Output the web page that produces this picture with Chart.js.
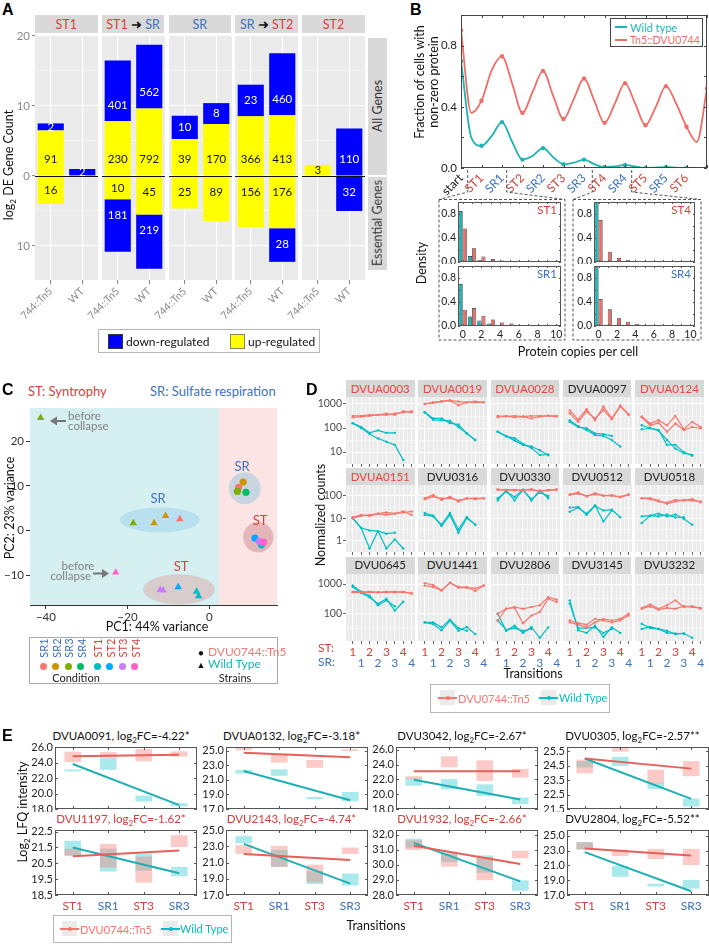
<!DOCTYPE html>
<html>
<head>
<meta charset="utf-8">
<script src="https://cdn.jsdelivr.net/npm/chart.js@4.4.1/dist/chart.umd.min.js"></script>
<style>
  body { margin: 0; width: 709px; height: 944px; position: relative; overflow: hidden; background: #fff;
         font-family: Lato, "Open Sans", sans-serif; }
  canvas { position: absolute; }
  .t { position: absolute; white-space: nowrap; line-height: 1; }
</style>
</head>
<body>
<script>
// ---------- data: panel A (DE gene counts) ----------
const aFacets = ['ST1', 'ST1→SR', 'SR', 'SR→ST2', 'ST2'];
const aStrains = ['744::Tn5', 'WT'];
// per facet: [744::Tn5, WT]
const aUpAll   = [[91, 0], [230, 792], [39, 170], [366, 413], [3, 0]];
const aDownAll = [[2, 2], [401, 562], [10, 8], [23, 460], [0, 110]];
const aUpEss   = [[16, 0], [10, 45], [25, 89], [156, 176], [0, 0]];
const aDownEss = [[0, 0], [181, 219], [0, 0], [0, 28], [0, 32]];
const aGrid = [-10, -5, 0, 5, 10, 15, 20];

// ---------- data: panel B (fraction of cells) ----------
const bStages = ['start', 'ST1', 'SR1', 'ST2', 'SR2', 'ST3', 'SR3', 'ST4', 'SR4', 'ST5', 'SR5', 'ST6', ''];
const bStageX = [0, 1, 2, 3, 4, 5, 6, 7, 8, 9, 10, 11, 12];
const bTn5Pts = [0.90, 0.44, 0.73, 0.36, 0.635, 0.32, 0.585, 0.295, 0.555, 0.28, 0.535, 0.27, 0.52];
const bWtPts  = [0.70, 0.145, 0.30, 0.055, 0.13, 0.025, 0.055, 0.005, 0.02, 0.0, 0.005, 0.0, 0.0];
const bCurveX = [0, 0.5, 1, 1.5, 2, 2.5, 3, 3.5, 4, 4.5, 5, 5.5, 6, 6.5, 7, 7.5, 8, 8.5, 9, 9.5, 10, 10.5, 11, 11.5, 12];
const bTn5Curve = [0.90, 0.36, 0.44, 0.64, 0.73, 0.55, 0.36, 0.50, 0.635, 0.47, 0.32, 0.45, 0.585, 0.44, 0.295, 0.42, 0.555, 0.42, 0.28, 0.40, 0.535, 0.42, 0.27, 0.17, 0.52];
const bWtCurve  = [0.70, 0.20, 0.145, 0.21, 0.30, 0.17, 0.055, 0.08, 0.13, 0.07, 0.025, 0.035, 0.055, 0.025, 0.005, 0.01, 0.02, 0.01, 0.0, 0.003, 0.005, 0.002, 0.0, 0.0, 0.0];
const bYTicks = [0, 0.2, 0.4, 0.6, 0.8, 1.0];

// histograms (density of protein copies per cell)
const hCopies = ['0', '1', '2', '3', '4', '5', '6', '7', '8', '9', '10'];
const hST1Wt  = [0.85, 0.10, 0.03, 0.01, 0, 0, 0, 0, 0, 0, 0];
const hST1Tn5 = [0.56, 0.23, 0.09, 0.05, 0.025, 0.015, 0.01, 0.005, 0.003, 0.002, 0.001];
const hSR1Wt  = [0.70, 0.16, 0.09, 0.04, 0.01, 0, 0, 0, 0, 0, 0];
const hSR1Tn5 = [0.27, 0.30, 0.17, 0.11, 0.06, 0.04, 0.02, 0.015, 0.01, 0.005, 0.003];
const hST4Wt  = [0.995, 0.005, 0, 0, 0, 0, 0, 0, 0, 0, 0];
const hST4Tn5 = [0.70, 0.17, 0.07, 0.03, 0.015, 0.007, 0.004, 0.002, 0.001, 0, 0];
const hSR4Wt  = [0.98, 0.02, 0, 0, 0, 0, 0, 0, 0, 0, 0];
const hSR4Tn5 = [0.45, 0.28, 0.13, 0.07, 0.035, 0.017, 0.008, 0.004, 0.002, 0.001, 0];

// ---------- data: panel C (PCA) ----------
const cConds = ['SR1', 'SR2', 'SR3', 'SR4', 'ST1', 'ST2', 'ST3', 'ST4'];
const cCondColors = ['#F8766D', '#CD9600', '#7CAE00', '#00BE67', '#00BFC4', '#00A9FF', '#C77CFF', '#FF61CC'];
const cTn5Cond = ['SR1', 'SR2', 'SR3', 'SR4', 'ST1', 'ST2', 'ST3', 'ST4'];
const cTn5X = [7.2, 8.3, 6.9, 9.0, 12.8, 11.2, 12.2, 13.3];
const cTn5Y = [9.7, 10.9, 8.8, 8.6, -3.2, -1.7, -2.4, -2.6];
const cWtCond = ['SR3', 'SR3', 'SR2', 'SR2', 'SR1', 'ST3', 'ST3', 'ST2', 'ST1', 'ST1', 'ST4'];
const cWtX = [-41.3, -18.6, -13.5, -10.7, -7.2, -12.0, -11.3, -7.6, -3.1, -2.6, -22.9];
const cWtY = [25.3, 1.7, 1.7, 3.3, 2.6, -13.3, -13.4, -12.7, -13.7, -14.7, -9.4];
const cXTicks = [-40, -20, 0];
const cYTicks = [-10, 0, 10, 20];

// ---------- data: panel D (normalized counts) ----------
const dGenes = ['DVUA0003', 'DVUA0019', 'DVUA0028', 'DVUA0097', 'DVUA0124',
                'DVUA0151', 'DVU0316', 'DVU0330', 'DVU0512', 'DVU0518',
                'DVU0645', 'DVU1441', 'DVU2806', 'DVU3145', 'DVU3232'];
const dGeneRed = ['DVUA0003', 'DVUA0019', 'DVUA0028', 'DVUA0124', 'DVUA0151'];
const dStLabels = ['1', '2', '3', '4'];
const dSrLabels = ['1', '2', '3', '4'];
const dTn5A = [
  [320, 320, 350, 350, 400, 350, 500, 450], [1000, 1120, 1260, 1400, 1260, 1170, 1170, 1170],
  [280, 320, 280, 300, 250, 300, 330, 300], [540, 230, 600, 210, 780, 250, 870, 380],
  [300, 155, 210, 130, 320, 90, 180, 110],
  [10, 12.6, 14, 16, 14, 16, 18, 20], [80, 110, 66, 93, 56, 80, 71, 80],
  [186, 186, 178, 186, 186, 166, 186, 200], [117, 145, 93, 132, 100, 110, 87, 110],
  [79, 79, 62, 44, 56, 66, 62, 56],
  [550, 550, 525, 525, 550, 525, 550, 470], [1070, 930, 620, 1100, 790, 790, 575, 890],
  [58, 145, 166, 145, 166, 190, 360, 295], [58, 47, 42, 66, 58, 50, 58, 85],
  [155, 204, 145, 190, 280, 166, 178, 145]];
const dTn5B = [
  [280, 300, 320, 350, 350, 400, 450, 500], [1000, 1170, 1300, 1400, 890, 1170, 1260, 1170],
  [320, 300, 320, 300, 320, 320, 320, 320], [410, 180, 480, 250, 560, 230, 780, 350],
  [280, 130, 165, 70, 155, 83, 110, 98],
  [11, 14, 12.6, 16, 18, 16, 20, 14], [71, 93, 76, 80, 63, 76, 80, 76],
  [200, 186, 186, 178, 200, 158, 178, 186], [110, 126, 100, 117, 105, 100, 93, 117],
  [79, 71, 56, 50, 66, 62, 71, 52],
  [525, 525, 550, 525, 525, 550, 525, 500], [890, 790, 600, 1100, 760, 760, 710, 890],
  [98, 145, 158, 47, 85, 112, 316, 245], [50, 42, 34, 50, 66, 58, 66, 98],
  [145, 174, 135, 155, 145, 178, 166, 155]];
const dWtA = [
  [160, 110, 63, 80, 63, 63], [450, 250, 250, 160, 140, 60, 32],
  [71, 47, 30, 20, 17, 12, 7.4], [180, 110, 98, 60, 56, 47],
  [130, 100, 83, 20, 20, 10, 7],
  [10, 3.6, 0.43, 2.6, 0.43, 1.1, 0.43], [17, 13, 4.4, 14, 2.2, 10, 5.1],
  [63, 178, 63, 186, 63, 178, 79], [30, 32, 14, 36, 22, 24, 11],
  [12, 13, 16, 12, 14.5, 9.5, 5.1],
  [890, 550, 400, 190, 280, 178], [50, 44, 27, 58, 26, 35, 20],
  [98, 26, 39, 22, 35, 15, 34], [280, 27, 22, 39, 16, 34, 22],
  [45, 32, 30, 26, 20, 21, 15]];
const dWtB = [
  [160, 100, 56, 37, 27, 20, 4.7], [450, 220, 210, 200, 110, 60, 32],
  [70, 45, 38, 22, 15, 7.5, 8], [210, 120, 83, 51, 47, 32, 17],
  [89, 98, 78, 32, 14, 9, 7.6],
  [10, 3.6, 2.8, 2.6, 2, 2.2], [14, 12, 5.1, 17, 3.1, 11, 5.1],
  [79, 158, 89, 190, 71, 141, 100], [19.5, 30, 16, 37, 7.2, 22],
  [6, 13, 12, 14.5, 10.7, 11],
  [800, 500, 355, 214, 316, 126, 251], [50, 50, 34, 62, 32, 26],
  [58, 28, 32, 26, 30], [214, 32, 32, 34, 22, 30],
  [30, 35, 30, 22, 21, 21]];
const dYMin = [3.2, 0.32, 11.7];
const dYMax = [1950, 310, 2190];
const dYGrid = [[10, 31.6, 100, 316, 1000], [1, 3.16, 10, 31.6, 100], [31.6, 100, 316, 1000]];
const dYMajor = [[10, 100, 1000], [1, 10, 100], [100, 1000]];
const dXGrid = [-0.5, 0, 0.5, 1, 1.5, 2, 2.5, 3, 3.5, 4, 4.5, 5, 5.5, 6, 6.5, 7];

// ---------- data: panel E (LFQ intensity) ----------
const eGenes = ['DVUA0091', 'DVUA0132', 'DVU3042', 'DVU0305', 'DVU1197', 'DVU2143', 'DVU1932', 'DVU2804'];
const eFC = ['-4.22*', '-3.18*', '-2.67*', '-2.57**', '-1.62*', '-4.74*', '-2.66*', '-5.52**'];
const eTitleRed = [false, false, false, false, true, true, true, false];
const eStages = ['ST1', 'SR1', 'ST3', 'SR3'];
const eYMin = [18, 17, 18, 21.5, 18.5, 17, 28, 17];
const eYMax = [26, 25.5, 26.4, 25.8, 22.6, 25, 32.3, 25.8];
const eTicks = [[18, 20, 22, 24, 26], [17, 19, 21, 23, 25], [18, 20, 22, 24, 26], [21.5, 22.5, 23.5, 24.5, 25.5],
                [18.5, 19.5, 20.5, 21.5, 22.5], [17, 19, 21, 23, 25], [28, 29, 30, 31, 32], [17, 19, 21, 23, 25]];
const eTn5Box = [
  [[24.1, 25.35], [24.6, 25.3], [24.2, 25.7], [24.8, 25.4]],
  [[25.1, 25.45], [23.4, 24.4], [22.7, 23.7], [25.0, 25.15]],
  [[22.1, 22.4], [23.7, 25.1], [21.85, 24.55], [22.3, 23.4]],
  [[24.0, 24.9], [25.5, 25.7], [23.3, 24.2], [23.8, 24.8]],
  [[21.0, 21.4], [20.25, 21.7], [19.3, 20.9], [21.55, 22.25]],
  [[22.1, 23.1], [20.5, 23.0], [18.6, 20.7], [22.1, 22.8]],
  [[31.0, 31.6], [29.9, 30.7], [29.0, 30.5], [30.45, 30.9]],
  [[23.2, 24.1], [22.3, 23.1], [21.9, 23.2], [21.1, 23.2]]];
const eWtBox = [
  [[22.9, 23.05], [23.1, 24.5], [19.0, 19.7], [18.4, 18.7]],
  [[21.9, 22.3], [21.6, 22.4], [18.4, 18.6], [18.1, 19.3]],
  [[21.2, 22.1], [20.7, 22.0], [19.8, 21.3], [18.7, 19.5]],
  [[24.4, 24.8], [24.5, 25.1], [22.9, 23.3], [21.7, 22.2]],
  [[21.0, 21.9], [20.0, 21.4], [20.05, 21.1], [19.7, 20.25]],
  [[23.4, 24.2], [20.5, 22.5], [18.4, 19.9], [18.2, 19.6]],
  [[31.15, 31.7], [30.2, 30.8], [29.5, 30.6], [28.3, 28.95]],
  [[23.2, 24.1], [19.5, 20.9], [18.2, 18.5], [17.9, 19.0]]];
// fitted line ends at ST1 and SR3
const eTn5Fit = [[24.8, 25.0], [24.7, 24.1], [23.1, 23.1], [25.0, 24.3], [20.94, 21.3], [22.06, 21.3], [31.26, 30.05], [23.3, 22.35]];
const eWtFit  = [[23.8, 18.5], [22.2, 18.2], [21.95, 19.3], [25.0, 22.2], [21.5, 19.87], [23.3, 18.4], [31.45, 28.9], [22.8, 17.5]];

// ---------- colours ----------
const RED = '#F8766D', TEAL = '#00BFC4';
const STC = '#d4423a', SRC = '#3d72bd';
const stageColor = s => s.startsWith('ST') ? STC : s.startsWith('SR') ? SRC : '#111';

Chart.defaults.font.family = 'Lato, "Open Sans", sans-serif';
Chart.defaults.color = '#222';

// ---------- small plugins ----------
Chart.register({
  id: 'bg',
  beforeDraw(ch, args, o) {
    if (!o.color) return;
    const a = ch.chartArea, c = ch.ctx;
    c.save(); c.fillStyle = o.color;
    c.fillRect(a.left, a.top, a.right - a.left, a.bottom - a.top);
    c.restore();
  }
});
Chart.register({
  id: 'frame',
  afterDatasetsDraw(ch, args, o) {
    if (!o.color) return;
    const a = ch.chartArea, c = ch.ctx, L = o.len || 3;
    c.save(); c.strokeStyle = o.color; c.lineWidth = 1;
    c.beginPath();
    if (o.ticks) {
      const xs = ch.scales.x, ys = ch.scales.y;
      xs.ticks.forEach(t => {
        const p = Math.round(xs.getPixelForValue(t.value)) + 0.5;
        c.moveTo(p, a.bottom); c.lineTo(p, a.bottom - L);
        c.moveTo(p, a.top); c.lineTo(p, a.top + L);
      });
      ys.ticks.forEach(t => {
        const p = Math.round(ys.getPixelForValue(t.value)) + 0.5;
        c.moveTo(a.left, p); c.lineTo(a.left + L, p);
        c.moveTo(a.right, p); c.lineTo(a.right - L, p);
      });
    }
    c.stroke();
    c.strokeRect(a.left + 0.5, a.top + 0.5, a.right - a.left - 1, a.bottom - a.top - 1);
    c.restore();
  }
});
Chart.register({
  id: 'hline',
  afterDatasetsDraw(ch, args, o) {
    if (o.value === undefined) return;
    const a = ch.chartArea, c = ch.ctx, y = Math.round(ch.scales.y.getPixelForValue(o.value)) + 0.5;
    c.save(); c.strokeStyle = o.color; c.lineWidth = 1.2;
    c.beginPath(); c.moveTo(a.left, y); c.lineTo(a.right, y); c.stroke();
    c.restore();
  }
});
Chart.register({
  id: 'barLabels',
  afterDatasetsDraw(ch, args, o) {
    if (!o.on) return;
    const c = ch.ctx;
    c.save(); c.font = '11.5px Lato, "Open Sans", sans-serif';
    c.textAlign = 'center'; c.textBaseline = 'middle';
    ch.data.datasets.forEach((ds, i) => {
      ch.getDatasetMeta(i).data.forEach((el, j) => {
        const n = ds.counts[j];
        if (!n) return;
        const off = Math.min(Math.abs(el.base - el.y) / 2, 16);
        const y = el.y < el.base ? el.base - off : el.base + off;
        c.fillStyle = ds.labelColor;
        c.fillText(String(n), el.x, y);
      });
    });
    c.restore();
  }
});
Chart.register({
  id: 'regions',
  beforeDatasetsDraw(ch, args, o) {
    if (!o.bands) return;
    const xs = ch.scales.x, ys = ch.scales.y, a = ch.chartArea, c = ch.ctx;
    c.save();
    o.bands.forEach(b => {
      const x0 = Math.max(a.left, xs.getPixelForValue(b.from)), x1 = Math.min(a.right, xs.getPixelForValue(b.to));
      c.fillStyle = b.color; c.fillRect(x0, a.top, x1 - x0, a.bottom - a.top);
    });
    o.ellipses.forEach(e => {
      const cx = xs.getPixelForValue(e.x), cy = ys.getPixelForValue(e.y);
      const rx = Math.abs(xs.getPixelForValue(e.x + e.rx) - cx), ry = Math.abs(ys.getPixelForValue(e.y + e.ry) - cy);
      c.beginPath(); c.ellipse(cx, cy, rx, ry, 0, 0, Math.PI * 2);
      c.fillStyle = e.color; c.fill();
    });
    c.restore();
  }
});

// ---------- helpers ----------
function chartAt(x, y, w, h, pad, cfg) {
  x = Math.round(x); y = Math.round(y); w = Math.round(w); h = Math.round(h);
  const [pl, pt, pr, pb] = pad;
  const W = w + pl + pr, H = h + pt + pb;
  const cv = document.createElement('canvas');
  cv.width = W; cv.height = H;
  cv.style.left = (x - pl) + 'px'; cv.style.top = (y - pt) + 'px';
  cv.style.width = W + 'px'; cv.style.height = H + 'px';
  document.body.appendChild(cv);
  const o = cfg.options;
  o.responsive = false; o.animation = false; o.devicePixelRatio = 1;
  o.layout = { padding: { left: 0, top: pt, right: pr, bottom: 0 }, autoPadding: false };
  o.plugins = Object.assign({ legend: { display: false }, tooltip: { enabled: false } }, o.plugins || {});
  if (!o.scales.x.afterFit) o.scales.x.afterFit = s => { s.height = pb; s.paddingLeft = 0; s.paddingRight = 0; };
  o.scales.y.afterFit = s => { s.width = pl; s.paddingTop = 0; s.paddingBottom = 0; };
  return new Chart(cv, cfg);
}

function txt(html, x, y, o = {}) {
  const d = document.createElement('div');
  d.className = 't';
  d.innerHTML = html;
  d.style.left = x + 'px'; d.style.top = y + 'px';
  d.style.fontSize = (o.size || 11) + 'px';
  d.style.color = o.color || '#222';
  if (o.bold) d.style.fontWeight = 'bold';
  if (o.font) d.style.fontFamily = o.font;
  const ax = o.align === 'l' ? '0' : o.align === 'r' ? '-100%' : '-50%';
  d.style.transform = `translate(${ax},-50%)` + (o.rot ? ` rotate(${o.rot}deg)` : '');
  document.body.appendChild(d);
  return d;
}

function box(x, y, w, h, style) {
  const d = document.createElement('div');
  d.style.cssText = `position:absolute;left:${x}px;top:${y}px;width:${w}px;height:${h}px;box-sizing:border-box;${style}`;
  document.body.appendChild(d);
  return d;
}

const span = (s, col) => `<span style="color:${col}">${s}</span>`;
const colorStage = s => span(s, stageColor(s));
const LETTER = { size: 16, bold: true, font: '"Liberation Sans", Arial, sans-serif', color: '#000', align: 'l' };

// ======================= Panel A =======================
txt('A', 2, 10, LETTER);
aFacets.forEach((f, k) => {
  const left = 35 + 66.8 * k;
  box(left, 15, 62.5, 18, 'background:#d9d9d9');
  const parts = f.split('→');
  const lab = parts.length > 1
    ? colorStage(parts[0]) + ' <span style="color:#111">➜</span> ' + colorStage(parts[1])
    : colorStage(f);
  txt(lab, left + 31.25, 24.5, { size: 12.5 });

  const ds = (arr, col, sign, labCol) => ({
    data: arr[k].map(v => v > 0 ? sign * Math.log2(v) : null),
    counts: arr[k], labelColor: labCol, backgroundColor: col, stack: 's',
    categoryPercentage: 1, barPercentage: 0.83
  });
  chartAt(left, 35, 62.5, 245, [30, 10, 2, 42], {
    type: 'bar',
    data: {
      labels: aStrains,
      datasets: [ds(aUpAll, '#ffff00', 1, '#111'), ds(aDownAll, '#0000ff', 1, '#fff'),
                 ds(aUpEss, '#ffff00', -1, '#111'), ds(aDownEss, '#0000ff', -1, '#fff')]
    },
    options: {
      scales: {
        x: {
          stacked: true,
          grid: { color: '#fff', offset: false, lineWidth: 1.1, tickLength: 4, tickColor: '#8a8a8a' },
          border: { display: false },
          ticks: { color: '#8a8a8a', font: { size: 10.5 }, minRotation: 45, maxRotation: 45, autoSkip: false, padding: 1 }
        },
        y: {
          stacked: true, min: -14.86, max: 20.14,
          afterBuildTicks: s => { s.ticks = aGrid.map(v => ({ value: v })); },
          grid: {
            color: '#fff', tickLength: 3,
            lineWidth: c => (c.tick && c.tick.value % 10 === 0) ? 1.1 : 0.5,
            tickColor: c => (k === 0 && c.tick && c.tick.value % 10 === 0) ? '#8a8a8a' : 'rgba(0,0,0,0)'
          },
          border: { display: false },
          ticks: { display: k === 0, autoSkip: false, color: '#8a8a8a', font: { size: 11.5 }, padding: 2,
                   callback: v => v % 10 === 0 ? String(Math.abs(v)) : '' }
        }
      },
      plugins: { bg: { color: '#ebebeb' }, hline: { value: 0, color: '#111' }, barLabels: { on: true } }
    }
  });
});
box(368, 37.5, 19, 137.5, 'background:#d9d9d9');
box(368, 176.5, 19, 93.5, 'background:#d9d9d9');
txt('All Genes', 378, 106, { size: 12.5, color: '#333', rot: -90 });
txt('Essential Genes', 378, 223, { size: 12.5, color: '#333', rot: -90 });
txt('log<sub style="font-size:8px">2</sub> DE Gene Count', 10, 165, { size: 12.5, color: '#111', rot: -90 });
box(98, 329, 222, 24, 'border:1px solid #b5b5b5;background:#fff');
box(108, 334, 15, 15, 'background:#0000ff;border:1px solid #333');
txt('down-regulated', 126, 341.5, { size: 12, align: 'l', color: '#111' });
box(230, 334, 15, 15, 'background:#ffff00;border:1px solid #8a8a50');
txt('up-regulated', 248, 341.5, { size: 12, align: 'l', color: '#111', font: '"Liberation Sans Narrow", Lato, sans-serif' });

// ======================= Panel B =======================
txt('B', 410, 10, LETTER);
const BR = '#ee6e66', BT = '#1fb3b3';
chartAt(461, 15, 246, 153, [40, 5, 2, 36], {
  type: 'line',
  data: {
    datasets: [
      { data: bCurveX.map((x, i) => ({ x, y: bWtCurve[i] })), borderColor: BT, borderWidth: 1.8, pointRadius: 0, cubicInterpolationMode: 'monotone' },
      { data: bStageX.map((x, i) => ({ x, y: bWtPts[i] })), showLine: false, pointRadius: 2.2, pointBorderWidth: 0, pointBackgroundColor: BT },
      { data: bCurveX.map((x, i) => ({ x, y: bTn5Curve[i] })), borderColor: BR, borderWidth: 1.8, pointRadius: 0, cubicInterpolationMode: 'monotone' },
      { data: bStageX.map((x, i) => ({ x, y: bTn5Pts[i] })), showLine: false, pointRadius: 2.2, pointBorderWidth: 0, pointBackgroundColor: BR }
    ]
  },
  options: {
    scales: {
      x: {
        type: 'linear', min: 0, max: 12,
        afterBuildTicks: s => { s.ticks = bStageX.map(v => ({ value: v })); },
        grid: { display: false, drawTicks: false }, border: { display: false },
        ticks: { autoSkip: false, minRotation: 45, maxRotation: 45, padding: 3, font: { size: 12 },
                 color: c => stageColor(bStages[c.index] || ''), callback: (v, i) => bStages[i] }
      },
      y: {
        min: 0, max: 1.0,
        afterBuildTicks: s => { s.ticks = bYTicks.map(v => ({ value: v })); },
        grid: { display: false, drawTicks: false }, border: { display: false },
        ticks: { autoSkip: false, padding: 4, font: { size: 11.5 }, color: '#222',
                 callback: v => (Math.round(v * 10) % 4 === 0 && v < 0.9) ? v.toFixed(1) : '' }
      }
    },
    plugins: { frame: { color: '#444', ticks: true, len: 3 } }
  }
});
txt('Fraction of cells with', 420, 82, { size: 12.5, rot: -90, color: '#111' });
txt('non-zero protein', 434, 82, { size: 12.5, rot: -90, color: '#111' });
box(610, 18, 93, 29, 'border:1px solid #444;background:#fff');
box(615, 26, 12, 2, `background:${BT}`);
txt('Wild type', 630, 27, { size: 11, align: 'l', color: BT });
box(615, 39, 12, 1.5, `background:${BR}`);
txt('Tn5::DVU0744', 630, 39.5, { size: 10.6, align: 'l', color: BR });

function hist(x, y, w, wt, tn, showX, label) {
  chartAt(x, y, w, 60, [24, 4, 2, showX ? 14 : 2], {
    type: 'bar',
    data: {
      labels: hCopies,
      datasets: [
        { data: wt, backgroundColor: '#22b0b0', borderColor: '#222', borderWidth: 0.7, categoryPercentage: 0.88, barPercentage: 1 },
        { data: tn, backgroundColor: '#e8706a', borderColor: '#222', borderWidth: 0.7, categoryPercentage: 0.88, barPercentage: 1 }
      ]
    },
    options: {
      scales: {
        x: {
          grid: { display: false, drawTicks: false }, border: { display: false },
          ticks: { display: showX, autoSkip: false, maxRotation: 0, padding: 2, font: { size: 10.5 },
                   callback: (v, i) => i % 2 === 0 ? hCopies[i] : '' }
        },
        y: {
          min: 0, max: 1.0,
          afterBuildTicks: s => { s.ticks = bYTicks.map(v => ({ value: v })); },
          grid: { display: false, drawTicks: false }, border: { display: false },
          ticks: { autoSkip: false, padding: 2, font: { size: 10.5 },
                   callback: v => (Math.round(v * 10) % 4 === 0 && v < 0.9) ? v.toFixed(1) : '' }
        }
      },
      plugins: { frame: { color: '#555', ticks: true, len: 2 } }
    }
  });
  txt(label, x + w - 4, y + 8, { size: 11.5, align: 'r', color: stageColor(label) });
}
hist(458, 202, 103, hST1Wt, hST1Tn5, false, 'ST1');
hist(458, 266, 103, hSR1Wt, hSR1Tn5, true, 'SR1');
hist(594, 202, 101, hST4Wt, hST4Tn5, false, 'ST4');
hist(594, 266, 101, hSR4Wt, hSR4Tn5, true, 'SR4');
txt('Density', 422, 263, { size: 12.5, rot: -90, color: '#111' });
txt('Protein copies per cell', 578, 352, { size: 12.5, color: '#111' });

// ======================= Panel C =======================
txt('C', 2, 390, LETTER);
txt('ST: Syntrophy', 28, 391, { size: 13, align: 'l', color: STC });
txt('SR: Sulfate respiration', 150, 391, { size: 13, align: 'l', color: SRC });
const condColor = c => cCondColors[cConds.indexOf(c)];
const minus = v => v < 0 ? '\u2212' + Math.abs(v) : String(v);
chartAt(30, 408, 247, 197, [28, 4, 2, 20], {
  type: 'scatter',
  data: {
    datasets: [
      { data: cTn5X.map((x, i) => ({ x, y: cTn5Y[i] })), pointStyle: 'circle', pointRadius: 3.6, pointBorderWidth: 0,
        pointBackgroundColor: cTn5Cond.map(condColor) },
      { data: cWtX.map((x, i) => ({ x, y: cWtY[i] })), pointStyle: 'triangle', pointRadius: 4.3, pointBorderWidth: 0,
        pointBackgroundColor: cWtCond.map(condColor) }
    ]
  },
  options: {
    scales: {
      x: {
        min: -43.9, max: 16.6,
        afterBuildTicks: s => { s.ticks = cXTicks.map(v => ({ value: v })); },
        grid: { drawOnChartArea: false, tickLength: 4, tickColor: '#333' }, border: { color: '#333' },
        ticks: { color: '#333', font: { size: 11.5 }, padding: 1, callback: minus }
      },
      y: {
        min: -16.7, max: 27.5,
        afterBuildTicks: s => { s.ticks = cYTicks.map(v => ({ value: v })); },
        grid: { drawOnChartArea: false, tickLength: 4, tickColor: '#333' }, border: { color: '#333' },
        ticks: { color: '#333', font: { size: 11.5 }, padding: 2, callback: minus }
      }
    },
    plugins: {
      regions: {
        bands: [{ from: -50, to: 2.4, color: '#d6f0f1' }, { from: 2.4, to: 20, color: '#fde4e4' }],
        ellipses: [
          { x: -12.1, y: 2.4, rx: 9.8, ry: 2.8, color: '#b9e0ee' },
          { x: -7.4, y: -13.2, rx: 8.8, ry: 3.4, color: '#d8cccd' },
          { x: 8.7, y: 9.5, rx: 3.9, ry: 3.6, color: '#c8d5e0' },
          { x: 12.0, y: -1.5, rx: 3.7, ry: 3.4, color: '#e4b5b9' }
        ]
      }
    }
  }
});
txt('SR', 158, 498, { size: 13, color: SRC });
txt('ST', 181, 566, { size: 13, color: STC });
txt('SR', 242, 466, { size: 13, color: SRC });
txt('ST', 260, 520, { size: 13, color: STC });
txt('before', 68, 416, { size: 11.5, align: 'l', color: '#808080' });
txt('collapse', 68, 425.5, { size: 11.5, align: 'l', color: '#808080' });
txt('before', 78, 566, { size: 11.5, color: '#808080' });
txt('collapse', 91, 575.5, { size: 11.5, align: 'r', color: '#808080' });
txt('PC2: 23% variance', 10, 508, { size: 12.5, rot: -90, color: '#111' });
txt('PC1: 44% variance', 157, 627, { size: 12.5, color: '#111' });
box(29, 637, 249, 47, 'border:1px solid #aaa;background:#fff');
cConds.forEach((c, i) => {
  const x = i < 4 ? 43.3 + 12.5 * i : 97.3 + 12.5 * (i - 4);
  txt(c, x, 648, { size: 11, rot: -90, color: stageColor(c) });
  box(x - 3.5, 662.5, 7, 7, `border-radius:50%;background:${cCondColors[i]}`);
});
txt('Condition', 76, 677, { size: 11, color: '#222' });
txt('●', 201, 652, { size: 9, color: '#111' });
txt('DVU0744::Tn5', 208, 652, { size: 12, align: 'l', color: '#f07d75' });
txt('▲', 201, 663.5, { size: 9, color: '#111' });
txt('Wild Type', 208, 663.5, { size: 12, align: 'l', color: '#18b3b8' });
txt('Strains', 235, 677, { size: 11, color: '#222' });

// ======================= Panel D =======================
txt('D', 306, 390, LETTER);
dGenes.forEach((g, n) => {
  const r = Math.floor(n / 5), c = n % 5;
  const left = 346 + 72.3 * c, top = 397 + 88.3 * r;
  box(left, top - 17, 68.5, 17, 'background:#d9d9d9');
  txt(g, left + 34.25, top - 8.3, { size: 11.5, color: dGeneRed.includes(g) ? '#e8453c' : '#222' });
  const line = (vals, col) => ({
    data: vals.map((v, i) => ({ x: i, y: v })), borderColor: col, backgroundColor: col,
    borderWidth: 1.2, pointRadius: 1.2, pointBorderWidth: 0
  });
  const last = r === 2;
  const isInt = v => Number.isInteger(v);
  const scales = {
    x: {
      type: 'linear', min: -0.8, max: 7.4,
      afterBuildTicks: s => { s.ticks = dXGrid.map(v => ({ value: v })); },
      grid: { color: '#fff', tickLength: 3,
              lineWidth: t => (t.tick && isInt(t.tick.value)) ? 1 : 0.5,
              tickColor: t => (t.tick && isInt(t.tick.value)) ? '#666' : 'rgba(0,0,0,0)' },
      border: { display: false },
      ticks: { display: last, autoSkip: false, maxRotation: 0, color: STC, font: { size: 12 }, padding: 1,
               callback: v => (isInt(v) && v % 2 === 0) ? dStLabels[v / 2] : '' }
    },
    y: {
      type: 'logarithmic', min: dYMin[r], max: dYMax[r],
      afterBuildTicks: s => { s.ticks = dYGrid[r].map(v => ({ value: v })); },
      grid: { color: '#fff', tickLength: 3,
              lineWidth: t => (t.tick && dYMajor[r].includes(t.tick.value)) ? 1 : 0.5,
              tickColor: t => (c === 0 && t.tick && dYMajor[r].includes(t.tick.value)) ? '#666' : 'rgba(0,0,0,0)' },
      border: { display: false },
      ticks: { display: c === 0, autoSkip: false, color: '#4d4d4d', font: { size: 10.5 }, padding: 1,
               callback: v => dYMajor[r].includes(v) ? String(v) : '' }
    }
  };
  if (last) {
    scales.x.afterFit = s => { s.height = 15; s.paddingLeft = 0; s.paddingRight = 0; };
    scales.x2 = {
      type: 'linear', position: 'bottom', min: -0.8, max: 7.4,
      afterBuildTicks: s => { s.ticks = dXGrid.map(v => ({ value: v })); },
      grid: { display: false, drawTicks: false }, border: { display: false },
      ticks: { autoSkip: false, maxRotation: 0, color: SRC, font: { size: 12 }, padding: 0,
               callback: v => (isInt(v) && v % 2 === 1) ? dSrLabels[(v - 1) / 2] : '' },
      afterFit: s => { s.height = 15; s.paddingLeft = 0; s.paddingRight = 0; }
    };
  }
  chartAt(left, top, 68.5, 67, [c === 0 ? 30 : 0, 2, 0, last ? 30 : 4], {
    type: 'line',
    data: { datasets: [line(dTn5A[n], RED), line(dTn5B[n], RED), line(dWtA[n], TEAL), line(dWtB[n], TEAL)] },
    options: { scales, plugins: { bg: { color: '#ebebeb' } } }
  });
});
txt('Normalized counts', 321, 515, { size: 12.5, rot: -90, color: '#111' });
txt('ST:', 318, 647.5, { size: 12, align: 'l', color: STC });
txt('SR:', 318, 662, { size: 12, align: 'l', color: SRC });
txt('Transitions', 533, 674, { size: 12.5, color: '#111' });
box(430, 684, 180, 29, 'border:1px solid #b5b5b5;background:#fff');
box(440, 690, 15, 15, 'background:#ebebeb');
box(438, 697, 19, 1.5, `background:${RED}`);
box(445.5, 695.8, 4, 4, `border-radius:50%;background:${RED}`);
txt('DVU0744::Tn5', 458, 698, { size: 11, align: 'l', color: RED });
box(541, 690, 15, 15, 'background:#ebebeb');
box(539, 697, 19, 1.5, `background:${TEAL}`);
box(546.5, 695.8, 4, 4, `border-radius:50%;background:${TEAL}`);
txt('Wild Type', 559, 697, { size: 11, align: 'l', color: TEAL });

// ======================= Panel E =======================
txt('E', 2, 736, LETTER);
eGenes.forEach((g, n) => {
  const r = Math.floor(n / 4), c = n % 4;
  const left = 55 + 170.5 * c, top = r ? 830 : 747, h = r ? 65 : 61.5;
  txt(`${g}, log<sub style="font-size:8px">2</sub>FC=${eFC[n]}`, left + 66, top - 10, { size: 11.5, color: eTitleRed[n] ? '#d63c35' : '#111' });
  chartAt(left, top, 142, h, [30, 4, 2, r ? 18 : 3], {
    type: 'bar',
    data: {
      labels: eStages,
      datasets: [
        { type: 'line', data: [{ x: 'ST1', y: eTn5Fit[n][0] }, { x: 'SR3', y: eTn5Fit[n][1] }], borderColor: '#e8605a', borderWidth: 2, pointRadius: 0, order: 0 },
        { type: 'line', data: [{ x: 'ST1', y: eWtFit[n][0] }, { x: 'SR3', y: eWtFit[n][1] }], borderColor: '#1fb0b5', borderWidth: 2, pointRadius: 0, order: 0 },
        { type: 'bar', data: eTn5Box[n], backgroundColor: 'rgba(248,118,109,0.38)', grouped: false, barThickness: 16, order: 1 },
        { type: 'bar', data: eWtBox[n], backgroundColor: 'rgba(0,191,196,0.33)', grouped: false, barThickness: 16, order: 1 }
      ]
    },
    options: {
      scales: {
        x: {
          grid: { display: false, drawTicks: false }, border: { display: false },
          ticks: { display: r === 1, autoSkip: false, maxRotation: 0, padding: 4, font: { size: 12 },
                   color: t => stageColor(eStages[t.index]) }
        },
        y: {
          min: eYMin[n], max: eYMax[n],
          afterBuildTicks: s => { s.ticks = eTicks[n].map(v => ({ value: v })); },
          grid: { display: false, drawTicks: false }, border: { display: false },
          ticks: { autoSkip: false, padding: 2, font: { size: 11 }, color: '#222', callback: v => v.toFixed(1) }
        }
      },
      plugins: { frame: { color: '#555', ticks: true, len: 3 } }
    }
  });
});
txt('Log<sub style="font-size:8px">2</sub> LFQ intensity', 24, 812, { size: 12.5, rot: -90, color: '#111' });
txt('Transitions', 376, 926, { size: 12.5, color: '#111' });
box(53, 915, 179, 28, 'border:1px solid #b5b5b5;background:#fff');
box(62, 921, 15, 15, 'background:#ebebeb');
box(60, 928, 19, 1.5, `background:${RED}`);
box(67.5, 926.8, 4, 4, `border-radius:50%;background:${RED}`);
txt('DVU0744::Tn5', 80, 929, { size: 11, align: 'l', color: RED });
box(163, 921, 15, 15, 'background:#ebebeb');
box(161, 928, 19, 1.5, `background:${TEAL}`);
box(168.5, 926.8, 4, 4, `border-radius:50%;background:${TEAL}`);
txt('Wild Type', 180, 928, { size: 11, align: 'l', color: TEAL });

// ---------- overlay: dashed call-outs (B) and arrows (C) ----------
const ov = document.createElement('div');
ov.innerHTML = `<svg width="709" height="944" xmlns="http://www.w3.org/2000/svg" style="position:absolute;left:0;top:0;pointer-events:none">
  <g stroke="#555" stroke-width="1" stroke-dasharray="3,2" fill="none">
    <polyline points="467.7,170 467.7,192 439,199.5"/>
    <polyline points="506.7,170 506.7,192 565,199.5"/>
    <polyline points="592.3,170 592.3,192 573,199.5"/>
    <polyline points="631.7,170 631.7,192 701,199.5"/>
    <rect x="439" y="199.5" width="126" height="140.5"/>
    <rect x="573" y="199.5" width="128" height="140.5"/>
  </g>
  <g stroke="#777" stroke-width="2" fill="#777">
    <line x1="66" y1="421" x2="56" y2="421"/><polygon points="50,421 57,416.5 57,425.5" stroke="none"/>
    <line x1="93" y1="573.5" x2="103" y2="573.5"/><polygon points="109,573.5 102,569 102,578" stroke="none"/>
  </g>
</svg>`;
document.body.appendChild(ov);
</script>
</body>
</html>
